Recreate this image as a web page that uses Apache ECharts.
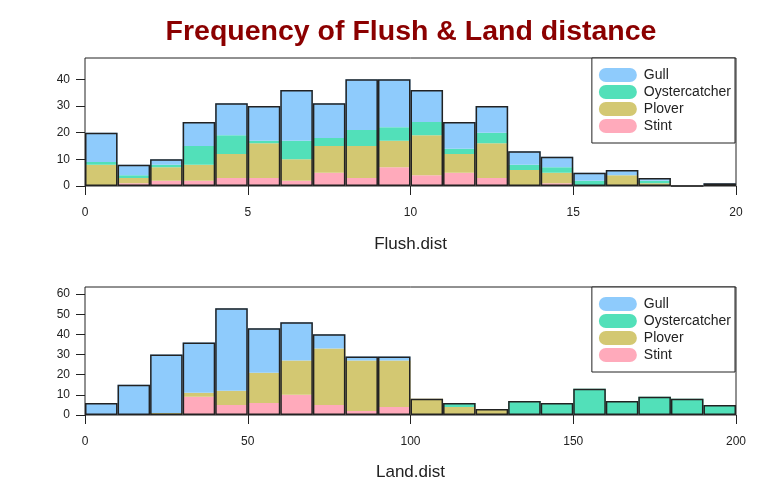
<!DOCTYPE html>
<html>
<head>
<meta charset="utf-8">
<script src="https://cdn.jsdelivr.net/npm/echarts@6/dist/echarts.min.js"></script>
<style>
  html, body { margin: 0; padding: 0; background: #fff; }
  #chart { width: 779px; height: 497px; }
</style>
</head>
<body>
<div id="chart"></div>
<script>
// species shown in the legend (bottom to top of each stack)
const species = ["Gull", "Oystercatcher", "Plover", "Stint"];
const speciesColor = ["#8ecbfc", "#52e0b9", "#d3c872", "#ffaabb"];

// Flush.dist histogram, bins of width 1 (0..20)
const flushBins = [0, 1, 2, 3, 4, 5, 6, 7, 8, 9, 10, 11, 12, 13, 14, 15, 16, 17, 18, 19];
const flushGull = [11, 4, 2, 9, 12, 13, 19, 13, 19, 18, 12, 10, 10, 5, 4, 3, 2, 1, 0, 1];
const flushOyster = [1, 1, 1, 7, 7, 1, 7, 3, 6, 5, 5, 2, 4, 2, 2, 2, 0, 1, 0, 0];
const flushPlover = [8, 2, 5, 6, 9, 13, 8, 10, 12, 10, 15, 7, 13, 6, 4, 0, 4, 1, 0, 0];
const flushStint = [0, 1, 2, 2, 3, 3, 2, 5, 3, 7, 4, 5, 3, 0, 1, 0, 0, 0, 0, 0];

// Land.dist histogram, bins of width 10 (0..200)
const landBins = [0, 10, 20, 30, 40, 50, 60, 70, 80, 90, 100, 110, 120, 130, 140, 150, 160, 170, 180, 190];
const landGull = [6, 15, 29, 25, 41, 22, 19, 7, 2, 2, 0, 0, 0, 0, 0, 0, 0, 0, 0, 0];
const landOyster = [0, 0, 0, 0, 0, 0, 0, 0, 0, 0, 0, 2, 0, 7, 6, 13, 7, 9, 8, 5];
const landPlover = [0, 0, 1, 2, 7, 15, 17, 28, 25, 23, 8, 4, 3, 0, 0, 0, 0, 0, 0, 0];
const landStint = [0, 0, 0, 9, 5, 6, 10, 5, 2, 4, 0, 0, 0, 0, 0, 0, 0, 0, 0, 0];

// axis ticks
const flushTicks = [0, 5, 10, 15, 20];
const landTicks = [0, 50, 100, 150, 200];
const flushYTicks = [0, 10, 20, 30, 40];
const landYTicks = [0, 10, 20, 30, 40, 50, 60];

const font = "Liberation Sans, Arial, sans-serif";
const ink = "#222";

const myChart = echarts.init(document.getElementById("chart"));

function total(arrs) {
  return arrs[0].map((v, i) => arrs.reduce((s, a) => s + a[i], 0));
}

function stackSeries(gridIdx, vals) {
  // stacked from the bottom: Stint, Plover, Oystercatcher, Gull
  let order = [3, 2, 1, 0];
  let list = order.map(k => ({
    name: species[k],
    type: "bar",
    stack: "s" + gridIdx,
    xAxisIndex: gridIdx * 2,
    yAxisIndex: gridIdx,
    data: vals[k],
    barCategoryGap: "0%",
    barGap: "-100%",
    itemStyle: { color: speciesColor[k] },
    emphasis: { disabled: true }
  }));
  list.push({
    name: "outline" + gridIdx,
    type: "bar",
    xAxisIndex: gridIdx * 2,
    yAxisIndex: gridIdx,
    data: total(vals),
    barCategoryGap: "0%",
    barGap: "-100%",
    z: 5,
    itemStyle: { color: "rgba(0,0,0,0)", borderColor: ink, borderWidth: 1.5 },
    emphasis: { disabled: true }
  });
  return list;
}

function legendBox(top) {
  return {
    data: species,
    orient: "vertical",
    right: 44,
    top: top,
    padding: [10, 4, 10, 7],
    itemWidth: 38,
    itemHeight: 14,
    itemGap: 3,
    borderColor: ink,
    borderWidth: 1,
    backgroundColor: "#fff",
    icon: "path://M7,0 H31 A7,7 0 0 1 31,14 H7 A7,7 0 0 1 7,0 Z",
    textStyle: { fontFamily: font, fontSize: 14, color: ink, padding: [0, 0, 0, 2] },
    selectedMode: false
  };
}

function catAxis(gridIdx, bins) {
  return {
    type: "category",
    gridIndex: gridIdx,
    position: "bottom",
    data: bins,
    boundaryGap: true,
    show: false
  };
}

function valAxis(gridIdx, max, ticks, name, gap) {
  return {
    type: "value",
    gridIndex: gridIdx,
    position: "bottom",
    offset: 0,
    min: 0,
    max: max,
    interval: ticks[1] - ticks[0],
    name: name,
    nameLocation: "middle",
    nameGap: gap,
    nameTextStyle: { fontFamily: font, fontSize: 17, color: ink },
    axisLine: { show: false },
    axisTick: { show: true, length: 9, lineStyle: { color: ink, width: 1 } },
    axisLabel: { fontFamily: font, fontSize: 12, color: ink, margin: 21 },
    splitLine: { show: false }
  };
}

function yAxis(gridIdx, max, ticks) {
  return {
    type: "value",
    gridIndex: gridIdx,
    min: 0,
    max: max,
    interval: 10,
    axisLine: { show: false },
    axisTick: { show: true, length: 9, customValues: ticks, lineStyle: { color: ink, width: 1 } },
    axisLabel: { fontFamily: font, fontSize: 12, color: ink, margin: 15, customValues: ticks },
    splitLine: { show: false }
  };
}

let option = {
  animation: false,
  title: {
    text: "Frequency of Flush & Land distance",
    left: 411,
    textAlign: "center",
    top: 18,
    padding: 0,
    textStyle: { fontFamily: font, fontSize: 28.5, fontWeight: "bold", color: "#8b0000" }
  },
  legend: [legendBox(58), legendBox(287)],
  grid: [
    { left: 85, right: 43, top: 58, bottom: 311, show: true, borderColor: ink, borderWidth: 1, backgroundColor: "#fff" },
    { left: 85, right: 43, top: 287, bottom: 82, show: true, borderColor: ink, borderWidth: 1, backgroundColor: "#fff" }
  ],
  xAxis: [
    catAxis(0, flushBins),
    valAxis(0, 20, flushTicks, "Flush.dist", 50),
    catAxis(1, landBins),
    valAxis(1, 200, landTicks, "Land.dist", 49)
  ],
  yAxis: [yAxis(0, 48, flushYTicks), yAxis(1, 63.5, landYTicks)],
  series: [
    ...stackSeries(0, [flushGull, flushOyster, flushPlover, flushStint]),
    ...stackSeries(1, [landGull, landOyster, landPlover, landStint])
  ]
};

myChart.setOption(option);
window.addEventListener("resize", () => {
  myChart.resize();
});
</script>
</body>
</html>
